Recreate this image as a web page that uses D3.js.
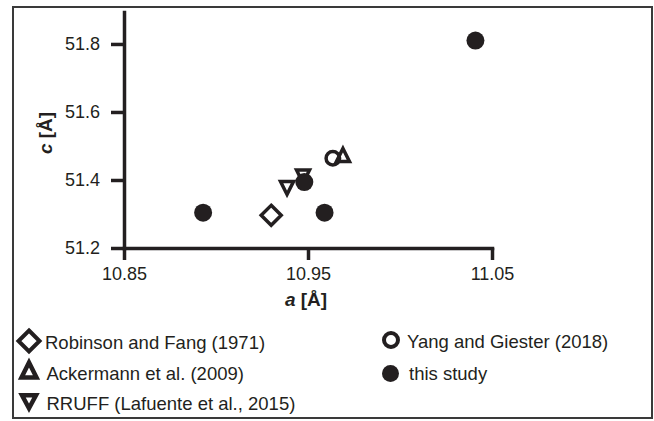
<!DOCTYPE html>
<html>
<head>
<meta charset="utf-8">
<script src="https://cdn.jsdelivr.net/npm/d3@7"></script>
<style>
  html, body { margin: 0; padding: 0; background: #fff; }
  svg { display: block; font-family: "Liberation Sans", Arial, Helvetica, sans-serif; }
</style>
</head>
<body>
<svg id="chart" width="654" height="421"></svg>
<script>
// ---- data ----
const aTicks = [10.85, 10.95, 11.05];
const cTicks = [51.2, 51.4, 51.6, 51.8];
const aDomain = [10.85, 11.05];
const cDomain = [51.2, 51.894];

const robinsonA = [10.930];
const robinsonC = [51.296];
const ackermannA = [10.969];
const ackermannC = [51.467];
const rruffA = [10.9386, 10.9473];
const rruffC = [51.383, 51.4165];
const yangA = [10.9635];
const yangC = [51.464];
const studyA = [10.893, 10.948, 10.959, 11.041];
const studyC = [51.304, 51.394, 51.304, 51.810];

const legendLabels = [
  "Robinson and Fang (1971)",
  "Ackermann et al. (2009)",
  "RRUFF (Lafuente et al., 2015)",
  "Yang and Giester (2018)",
  "this study"
];

// ---- setup ----
const ink = "#231f20";
const svg = d3.select("#chart");

svg.append("rect")
  .attr("x", 13).attr("y", 7).attr("width", 639).attr("height", 411)
  .attr("fill", "none").attr("stroke", "#3a3a3a").attr("stroke-width", 2);

const x = d3.scaleLinear().domain(aDomain).range([124, 492]);
const y = d3.scaleLinear().domain(cDomain).range([248, 12]);

// marker shapes
const diamond = r => `M0,${-r}L${r},0L0,${r}L${-r},0Z`;
const triUp = (w, h) => `M0,${-2*h/3}L${w/2},${h/3}L${-w/2},${h/3}Z`;
const triDown = (w, h) => `M0,${2*h/3}L${w/2},${-h/3}L${-w/2},${-h/3}Z`;

// ---- axes ----
const xAxis = d3.axisBottom(x).tickValues(aTicks).tickFormat(d3.format(".2f"))
  .tickSize(12).tickPadding(7).tickSizeOuter(0);
const yAxis = d3.axisLeft(y).tickValues(cTicks).tickFormat(d3.format(".1f"))
  .tickSize(13).tickPadding(11).tickSizeOuter(0);

function styleAxis(g) {
  g.select(".domain").attr("stroke", ink).attr("stroke-width", 3.5).attr("stroke-linecap", "square");
  g.selectAll(".tick line").attr("stroke", ink).attr("stroke-width", 3.5);
  g.selectAll(".tick text").attr("fill", "#231f20").style("font-size", "18px")
    .style("font-family", '"Liberation Sans", Arial, sans-serif');
}

svg.append("g").attr("transform", `translate(0,${y(51.2)})`).call(xAxis).call(styleAxis);
svg.append("g").attr("transform", `translate(${x(10.85)},0)`).call(yAxis).call(styleAxis);

// axis titles
const xt = svg.append("text").attr("x", 306).attr("y", 306).attr("text-anchor", "middle")
  .attr("font-size", 19).attr("font-weight", "bold").attr("fill", ink);
xt.append("tspan").attr("font-style", "italic").text("a");
xt.append("tspan").text(" [Å]");

const yt = svg.append("text").attr("transform", "translate(52,133) rotate(-90)")
  .attr("text-anchor", "middle").attr("font-size", 19).attr("font-weight", "bold").attr("fill", ink);
yt.append("tspan").attr("font-style", "italic").text("c");
yt.append("tspan").text(" [Å]");

// ---- points ----
const pts = svg.append("g");
const zip = (A, C) => A.map((a, i) => ({a, c: C[i]}));

pts.selectAll(".rob").data(zip(robinsonA, robinsonC)).join("path")
  .attr("transform", d => `translate(${x(d.a)},${y(d.c)})`)
  .attr("d", diamond(10)).attr("fill", "none").attr("stroke", ink).attr("stroke-width", 3.5)
  .attr("stroke-linejoin", "miter");

pts.selectAll(".rruff").data(zip(rruffA, rruffC)).join("path")
  .attr("transform", d => `translate(${x(d.a)},${y(d.c)})`)
  .attr("d", triDown(13, 13)).attr("fill", "none").attr("stroke", ink).attr("stroke-width", 3.5);

pts.selectAll(".study").data(zip(studyA, studyC)).join("circle")
  .attr("cx", d => x(d.a)).attr("cy", d => y(d.c)).attr("r", 9).attr("fill", ink);

pts.selectAll(".yang").data(zip(yangA, yangC)).join("circle")
  .attr("cx", d => x(d.a)).attr("cy", d => y(d.c)).attr("r", 6.75)
  .attr("fill", "none").attr("stroke", ink).attr("stroke-width", 3.5);

pts.selectAll(".ack").data(zip(ackermannA, ackermannC)).join("path")
  .attr("transform", d => `translate(${x(d.a)},${y(d.c)})`)
  .attr("d", triUp(13, 13)).attr("fill", "none").attr("stroke", ink).attr("stroke-width", 3.5);

// ---- legend ----
const leg = svg.append("g");
const legItems = [
  {label: legendLabels[0], mx: 29, my: 341, tx: 45, ty: 348.5,
   draw: g => g.append("path").attr("d", diamond(10.5)).attr("fill", "none").attr("stroke", ink).attr("stroke-width", 4)},
  {label: legendLabels[1], mx: 29, my: 372.5, tx: 46.5, ty: 380,
   draw: g => g.append("path").attr("d", triUp(15, 15)).attr("fill", "none").attr("stroke", ink).attr("stroke-width", 4.5)},
  {label: legendLabels[2], mx: 29, my: 399.6, tx: 46.5, ty: 409.5,
   draw: g => g.append("path").attr("d", triDown(14, 13)).attr("fill", "none").attr("stroke", ink).attr("stroke-width", 4.5)},
  {label: legendLabels[3], mx: 391, my: 340, tx: 407, ty: 348,
   draw: g => g.append("circle").attr("r", 7).attr("fill", "none").attr("stroke", ink).attr("stroke-width", 4)},
  {label: legendLabels[4], mx: 390.5, my: 373.5, tx: 409, ty: 379.5,
   draw: g => g.append("circle").attr("r", 8.5).attr("fill", ink)}
];
legItems.forEach(it => {
  const g = leg.append("g").attr("transform", `translate(${it.mx},${it.my})`);
  it.draw(g);
  leg.append("text").attr("x", it.tx).attr("y", it.ty).attr("font-size", 18.5)
    .attr("fill", ink).text(it.label);
});
</script>
</body>
</html>
